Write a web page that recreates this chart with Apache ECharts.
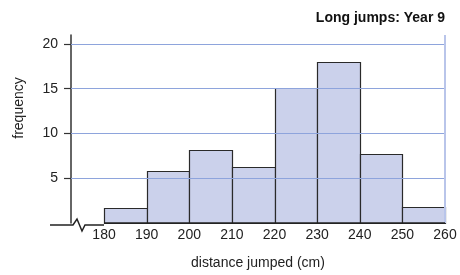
<!DOCTYPE html>
<html>
<head>
<meta charset="utf-8">
<script src="https://cdn.jsdelivr.net/npm/echarts@6/dist/echarts.min.js"></script>
<style>html,body{margin:0;padding:0;background:#fff}#c{width:460px;height:275px}</style>
</head>
<body>
<div id="c"></div>
<script>
const binStarts = [180, 190, 200, 210, 220, 230, 240, 250];
const binWidth = 10;
const frequencies = [1.7, 5.8, 8.1, 6.3, 15.1, 18, 7.7, 1.8];
const xTickLabels = [180, 190, 200, 210, 220, 230, 240, 250, 260];
const yTickValues = [5, 10, 15, 20];

const FONT = '"Liberation Sans", Arial, sans-serif';
const chart = echarts.init(document.getElementById('c'));
chart.setOption({
  animation: false,
  backgroundColor: '#fff',
  title: {
    text: 'Long jumps: Year 9',
    right: 15, top: 11, padding: 0,
    textStyle: { fontFamily: FONT, fontSize: 14, fontWeight: 'bold', color: '#111' }
  },
  grid: { left: 71, right: 15, top: 35, bottom: 50 },
  xAxis: {
    type: 'value', min: 172.25, max: 260,
    name: 'distance jumped (cm)', nameLocation: 'middle', nameGap: 33,
    nameTextStyle: { fontFamily: FONT, fontSize: 14, color: '#222' },
    axisLine: { show: false },
    axisTick: { show: false },
    splitLine: { show: false },
    axisLabel: { customValues: xTickLabels, margin: 5, fontFamily: FONT, fontSize: 14, color: '#222' }
  },
  yAxis: {
    type: 'value', min: 0, max: 21,
    axisLine: { show: true, lineStyle: { color: '#333', width: 1.5 } },
    axisTick: { show: true, customValues: yTickValues, length: 7, lineStyle: { color: '#333', width: 1.2 } },
    splitLine: { show: false },
    axisLabel: { customValues: yTickValues, margin: 13, fontFamily: FONT, fontSize: 14, color: '#222' }
  },
  graphic: [{
    type: 'polyline', z: 10, silent: true,
    shape: { points: [[50, 225], [73, 225], [77, 219], [82, 231], [85, 225], [104, 225]] },
    style: { stroke: '#222', lineWidth: 1.5, fill: null }
  }, {
    type: 'text', silent: true, x: 19, y: 108, rotation: Math.PI / 2,
    style: { text: 'frequency', fontFamily: FONT, fontSize: 14, fill: '#222', align: 'center', verticalAlign: 'middle' }
  }],
  series: [
    {
      type: 'line', data: [], z: 1, silent: true,
      markLine: {
        silent: true, symbol: 'none', label: { show: false }, animation: false,
        data: yTickValues.map(v => ({ yAxis: v, lineStyle: { color: '#8ea4dc', width: 1, type: 'solid' } }))
          .concat([{ xAxis: 260, lineStyle: { color: '#b9c5ea', width: 2, type: 'solid' } }])
      }
    },
    {
      type: 'custom', z: 3,
      data: binStarts.map((s, i) => [s, frequencies[i]]),
      renderItem: function (params, api) {
        const x0 = api.value(0), h = api.value(1);
        const pTop = api.coord([x0, h]);
        const pBot = api.coord([x0 + binWidth, 0]);
        const x = Math.round(pTop[0]) + 0.5, y = Math.round(pTop[1]) + 0.5;
        const x2 = Math.round(pBot[0]) + 0.5, y2 = Math.round(pBot[1]) + 0.5;
        return {
          type: 'rect',
          shape: { x: x, y: y, width: x2 - x, height: y2 - y },
          style: { fill: '#cbd1eb', stroke: '#2a2a2a', lineWidth: 1.2 }
        };
      }
    },
    {
      type: 'line', data: [], z: 4, silent: true,
      markLine: {
        silent: true, symbol: 'none', label: { show: false }, animation: false,
        data: [[{ coord: [180, 0] }, { coord: [260, 0] }]],
        lineStyle: { color: '#222', width: 1.5, type: 'solid' }
      }
    }
  ]
});
</script>
</body>
</html>
